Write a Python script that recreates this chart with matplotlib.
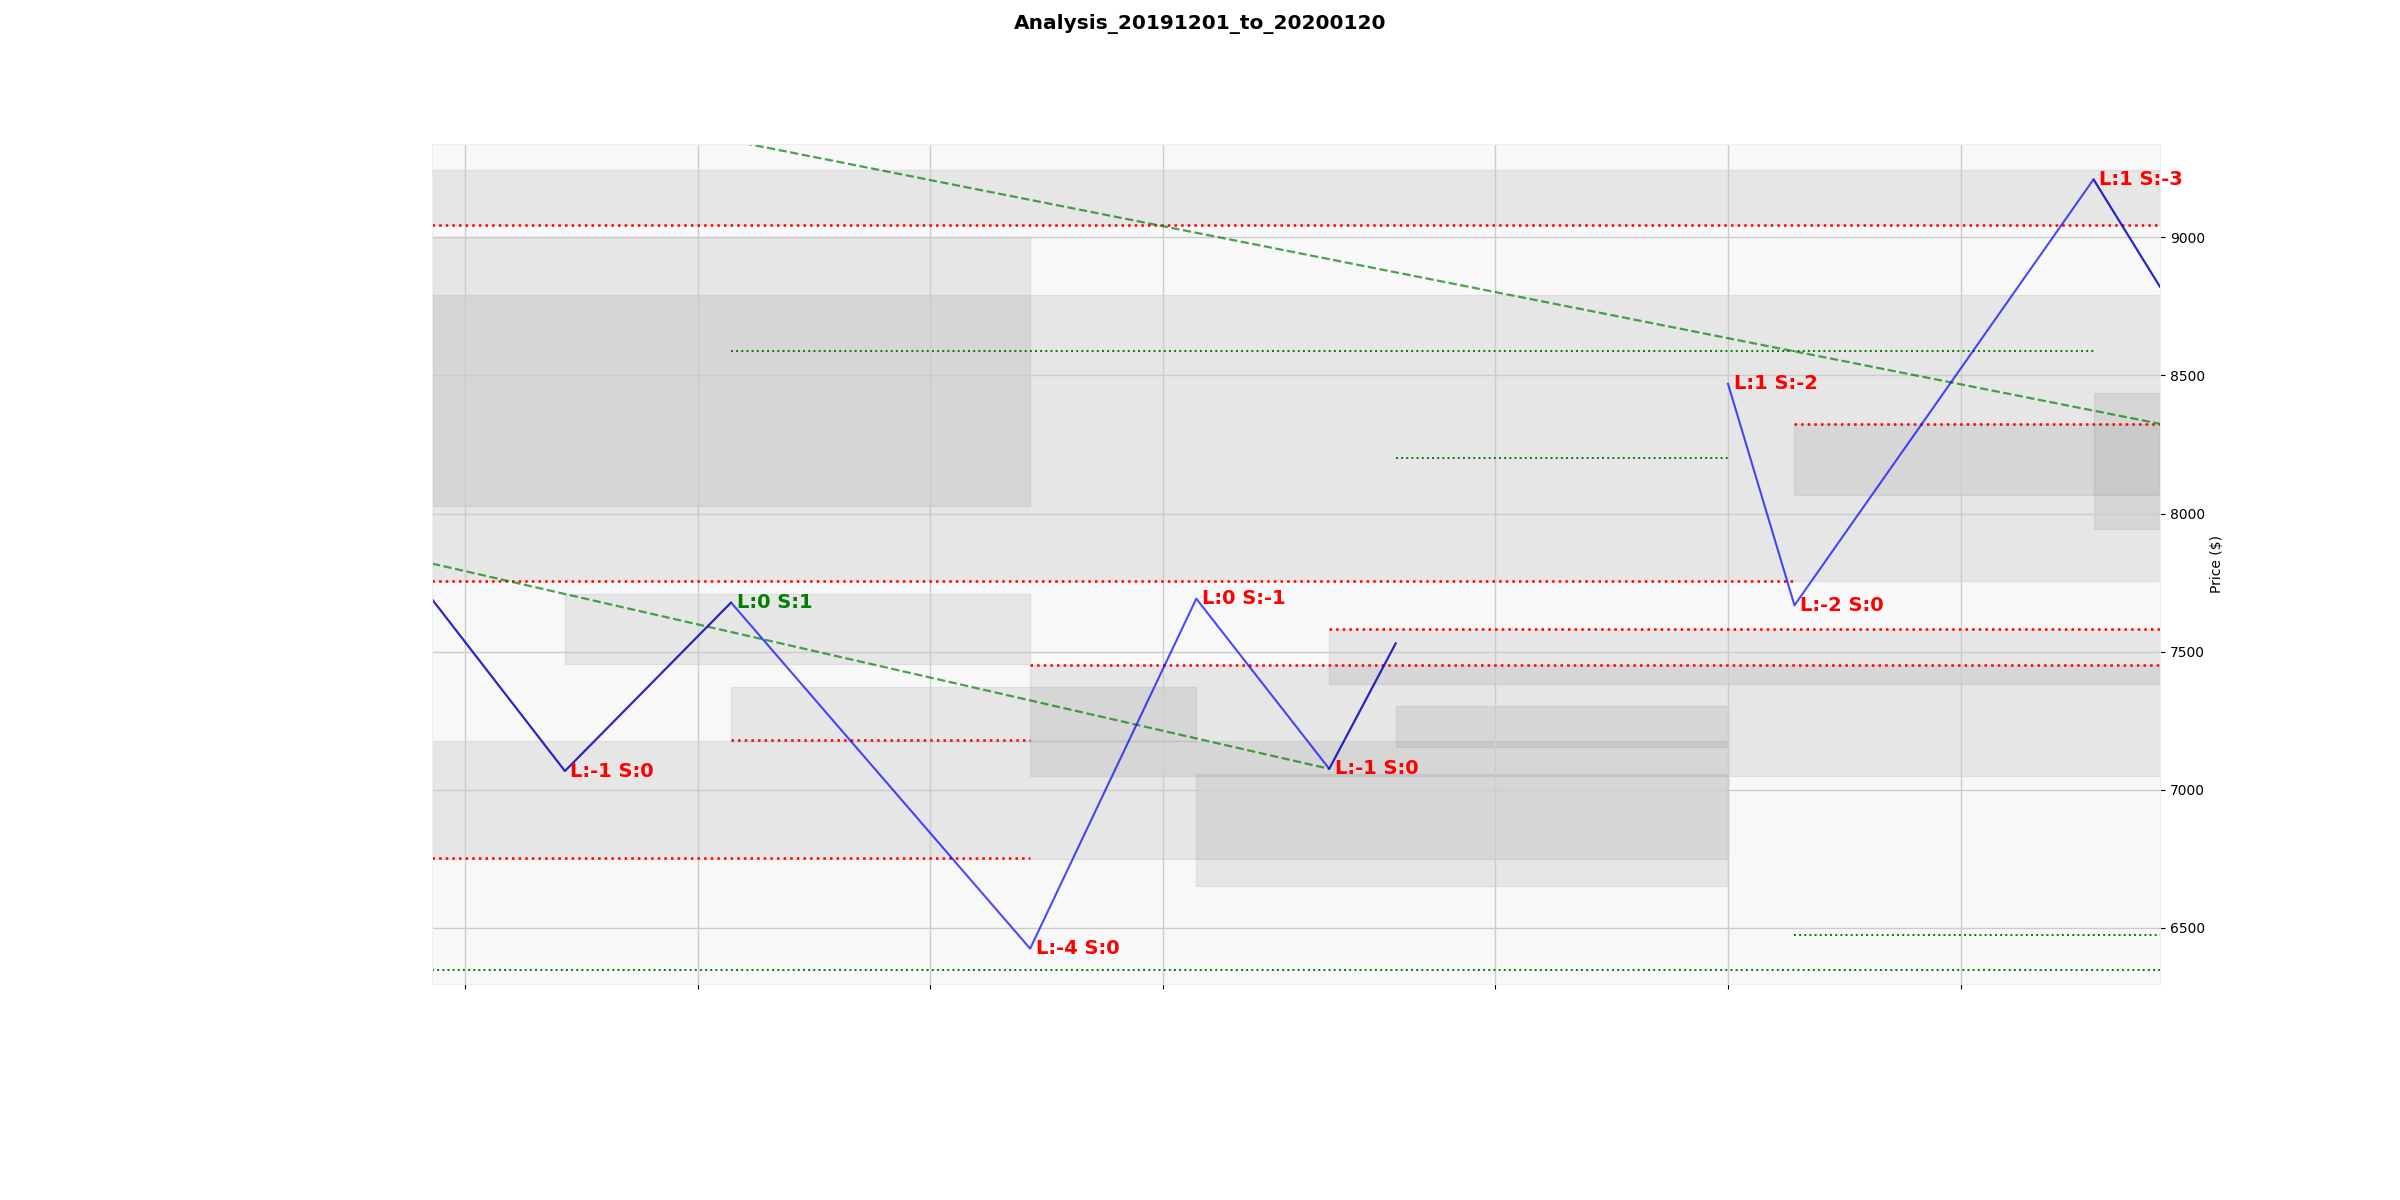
import pandas as pd
import matplotlib
matplotlib.use('Agg')
import matplotlib.pyplot as plt
import matplotlib.dates as mdates

title = 'Analysis_20191201_to_20200120'
x_start, x_end = pd.Timestamp('2019-11-30'), pd.Timestamp('2020-01-21')

# zigzag pivots, two stretches (nothing between Dec 29 and Jan 8)
wave1_dates = pd.to_datetime(['2019-11-30', '2019-12-04', '2019-12-09', '2019-12-18',
                              '2019-12-23', '2019-12-27', '2019-12-29'])
wave1_prices = [7690, 7068, 7678, 6425, 7692, 7076, 7530]
wave2_dates = pd.to_datetime(['2020-01-08', '2020-01-10', '2020-01-19', '2020-01-21'])
wave2_prices = [8470, 7668, 9210, 8821]

# pivot labels
label_dates = pd.to_datetime(['2019-12-04', '2019-12-09', '2019-12-18', '2019-12-23',
                              '2019-12-27', '2020-01-08', '2020-01-10', '2020-01-19'])
label_prices = [7068, 7678, 6425, 7692, 7076, 8470, 7668, 9210]
label_texts = ['L:-1 S:0', 'L:0 S:1', 'L:-4 S:0', 'L:0 S:-1',
               'L:-1 S:0', 'L:1 S:-2', 'L:-2 S:0', 'L:1 S:-3']
label_colors = ['red', 'green', 'red', 'red', 'red', 'red', 'red', 'red']

# grey zones
zone_start = ['2019-11-30', '2019-11-30', '2019-11-30', '2019-12-04', '2019-12-09', '2019-12-18',
              '2019-12-27', '2019-12-29', '2019-11-30', '2019-12-23', '2020-01-10', '2020-01-19']
zone_end = ['2020-01-21', '2019-12-18', '2020-01-21', '2019-12-18', '2019-12-23', '2020-01-21',
            '2020-01-21', '2020-01-08', '2020-01-08', '2020-01-08', '2020-01-21', '2020-01-21']
zone_low = [9045, 8028, 7755, 7457, 7178, 7049, 7383, 7154, 6751, 6652, 8069, 7946]
zone_high = [9244, 9002, 8791, 7708, 7371, 7453, 7582, 7302, 7178, 7058, 8325, 8436]

# red dotted levels
res_level = [9045, 7755, 7180, 6752, 7453, 7582, 8325]
res_start = ['2019-11-30', '2019-11-30', '2019-12-09', '2019-11-30', '2019-12-18', '2019-12-27', '2020-01-10']
res_end = ['2020-01-21', '2020-01-10', '2019-12-18', '2019-12-18', '2020-01-21', '2020-01-21', '2020-01-21']

# green dotted levels
sup_level = [8589, 8201, 6349, 6474]
sup_start = ['2019-12-09', '2019-12-29', '2019-11-30', '2020-01-10']
sup_end = ['2020-01-19', '2020-01-08', '2020-01-21', '2020-01-21']

# green dashed trend lines
trend_start = ['2019-11-30', '2019-11-30']
trend_end = ['2020-01-21', '2019-12-27']
trend_p0 = [9565, 7819]
trend_p1 = [8325, 7076]

fig = plt.figure(figsize=(24, 12), dpi=100)
ax = fig.add_axes([0.18, 0.18, 0.72, 0.70])
ax.set_facecolor('#f8f8f8')

for s, e, lo, hi in zip(zone_start, zone_end, zone_low, zone_high):
    ax.fill_between(pd.to_datetime([s, e]), lo, hi, color='gray', alpha=0.15, lw=1)

for lvl, s, e in zip(res_level, res_start, res_end):
    ax.plot(pd.to_datetime([s, e]), [lvl, lvl], ':', color='red', lw=1.8)

for lvl, s, e in zip(sup_level, sup_start, sup_end):
    ax.plot(pd.to_datetime([s, e]), [lvl, lvl], ':', color='green', lw=1.4)

for s, e, p0, p1 in zip(trend_start, trend_end, trend_p0, trend_p1):
    ax.plot(pd.to_datetime([s, e]), [p0, p1], '--', color='green', alpha=0.7, lw=1.6)

ax.plot(wave1_dates, wave1_prices, color='blue', alpha=0.7, lw=1.5)
ax.plot(wave2_dates, wave2_prices, color='blue', alpha=0.7, lw=1.5)

# current legs drawn again on top
ax.plot(wave1_dates[:3], wave1_prices[:3], color='navy', alpha=0.45, lw=1.5)
ax.plot(wave1_dates[5:], wave1_prices[5:], color='navy', alpha=0.45, lw=1.5)
ax.plot(wave2_dates[2:], wave2_prices[2:], color='navy', alpha=0.45, lw=1.5)

for d, p, t, c in zip(label_dates, label_prices, label_texts, label_colors):
    ax.annotate(t, (d, p), xytext=(4, 0), textcoords='offset points',
                color=c, fontsize=14, fontweight='bold', va='center', ha='left')

ax.set_xlim(x_start, x_end)
ax.set_ylim(6297, 9338)
ax.xaxis.set_major_locator(mdates.DayLocator(bymonthday=[1, 8, 15, 22]))
ax.tick_params(axis='x', labelbottom=False)
ax.yaxis.tick_right()
ax.yaxis.set_label_position('right')
ax.set_ylabel('Price ($)')
ax.grid(True, color='#cccccc', lw=1)
for sp in ax.spines.values():
    sp.set_color('#eeeeee')

fig.suptitle(title, fontsize=14.5, fontweight='bold', y=0.988)

plt.savefig('out.png', dpi=100)
